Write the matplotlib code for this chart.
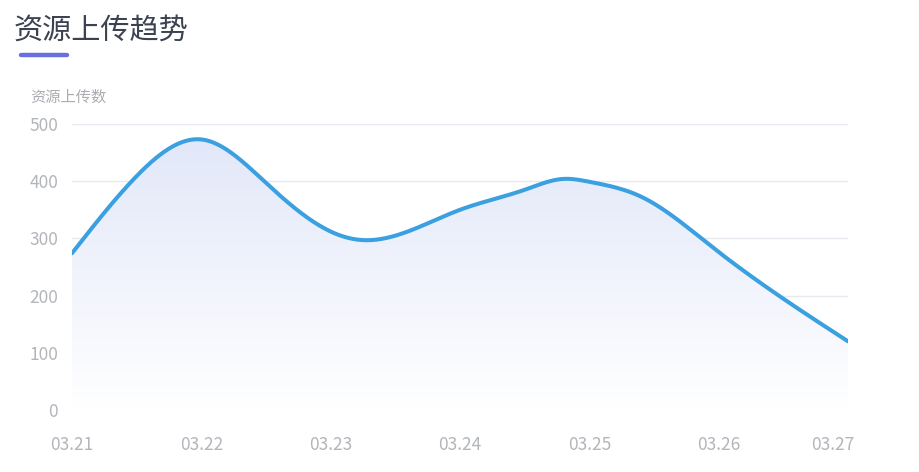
import numpy as np
import matplotlib.pyplot as plt
import matplotlib.transforms as mtransforms
from matplotlib.colors import LinearSegmentedColormap

plt.rcParams['font.family'] = ['Noto Sans CJK SC', 'DejaVu Sans']

# day labels on the x axis
days = ['03.21', '03.22', '03.23', '03.24', '03.25', '03.26', '03.27']
# points (position in days from 03.21, uploads)
pos = [0, 0.5, 1.0, 1.5, 2.0, 2.25, 3.0, 3.5, 3.8, 4.0, 4.4, 4.95, 6.0]
uploads = [274, 409, 473, 397, 312, 297, 350, 385, 404, 399, 373, 285, 120]
yticks = [0, 100, 200, 300, 400, 500]


# natural cubic spline through the points
def smooth(x, y, n=600):
    x = np.asarray(x, float)
    y = np.asarray(y, float)
    k = len(x)
    h = np.diff(x)
    A = np.zeros((k, k))
    b = np.zeros(k)
    A[0, 0] = 1
    A[-1, -1] = 1
    for i in range(1, k - 1):
        A[i, i - 1] = h[i - 1]
        A[i, i] = 2 * (h[i - 1] + h[i])
        A[i, i + 1] = h[i]
        b[i] = 6 * ((y[i + 1] - y[i]) / h[i] - (y[i] - y[i - 1]) / h[i - 1])
    M = np.linalg.solve(A, b)
    xs = np.linspace(x[0], x[-1], n)
    idx = np.clip(np.searchsorted(x, xs) - 1, 0, k - 2)
    x0, x1 = x[idx], x[idx + 1]
    hh = x1 - x0
    ys = (M[idx] * (x1 - xs)**3 / (6 * hh) + M[idx + 1] * (xs - x0)**3 / (6 * hh)
          + (y[idx] / hh - M[idx] * hh / 6) * (x1 - xs)
          + (y[idx + 1] / hh - M[idx + 1] * hh / 6) * (xs - x0))
    return xs, ys


fig = plt.figure(figsize=(9.2, 4.72), dpi=100)
ax = fig.add_axes([72 / 920, 1 - 410 / 472, (848 - 72) / 920, (410 - 124) / 472])

xs, ys = smooth(pos, uploads)

# gradient fill under the line
cmap = LinearSegmentedColormap.from_list('fade', ['#ffffff', '#e2e8f9'])
poly = ax.fill_between(xs, ys, 0, color='none')
grad = np.linspace(0, 1, 256).reshape(-1, 1)
img = ax.imshow(grad, cmap=cmap, aspect='auto', origin='lower',
                extent=[0, 6, 0, max(uploads)], zorder=1)
img.set_clip_path(poly.get_paths()[0], transform=ax.transData)

ax.plot(xs, ys, color='#3ba0e0', lw=2.9, solid_capstyle='round', zorder=3)

ax.set_xlim(0, 6)
ax.set_ylim(0, 500)
ax.set_yticks(yticks)
ax.set_xticks(range(len(days)))
ax.set_xticklabels(days)
ax.grid(axis='y', color='#e6e9ef', lw=1)
ax.set_axisbelow(True)
for s in ax.spines.values():
    s.set_visible(False)
ax.tick_params(axis='y', length=0, pad=10, labelsize=12.5, labelcolor='#b2b5ba')
ax.tick_params(axis='x', length=0, pad=19, labelsize=12.5, labelcolor='#b2b5ba')

# last day label sits a bit to the left
last = ax.get_xticklabels()[-1]
last.set_transform(last.get_transform() + mtransforms.ScaledTranslation(-15 / 100, 0, fig.dpi_scale_trans))

# title with underline
fig.text(14 / 920, 1 - 31 / 472, '资源上传趋势', fontsize=21, color='#3c4250', va='center', ha='left')
fig.add_artist(plt.Line2D([21 / 920, 67 / 920], [1 - 55 / 472, 1 - 55 / 472],
                          color='#6a6fe0', lw=3.2, solid_capstyle='round'))
fig.text(30 / 920, 1 - 97 / 472, '资源上传数', fontsize=11, color='#a9acb1', va='center', ha='left')

fig.savefig('out.png', dpi=100)
